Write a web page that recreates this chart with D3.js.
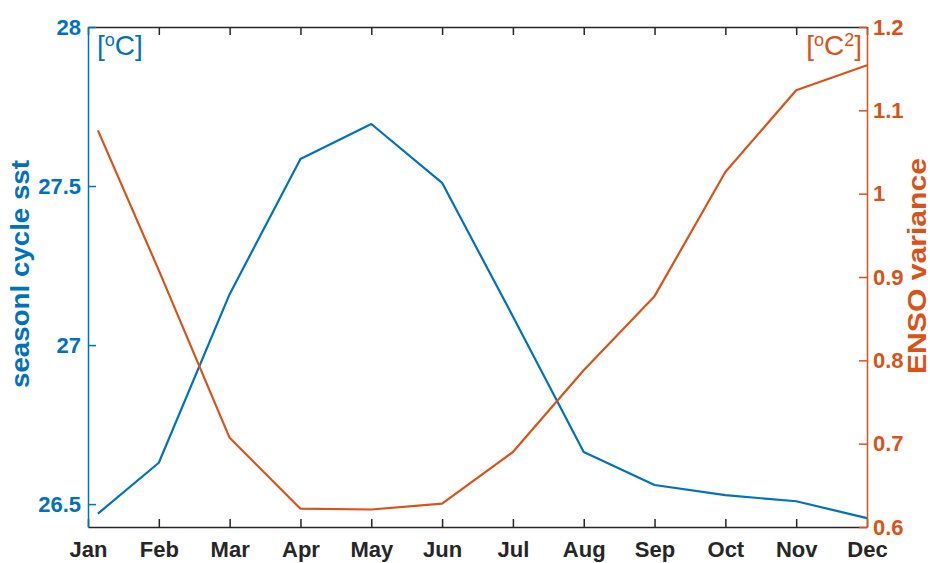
<!DOCTYPE html>
<html>
<head>
<meta charset="utf-8">
<script src="https://cdn.jsdelivr.net/npm/d3@7"></script>
<style>
  html, body { margin: 0; padding: 0; background: #fff; }
  svg { display: block; font-family: "Liberation Sans", Arial, sans-serif; }
</style>
</head>
<body>
<svg id="chart" width="930" height="563"></svg>
<script>
// Month labels and the positions the monthly values are plotted at
const months = ["Jan","Feb","Mar","Apr","May","Jun","Jul","Aug","Sep","Oct","Nov","Dec"];
const monthPos = [1.14, 2, 3, 4, 5, 6, 7, 8, 9, 10, 11, 12];

// Seasonal cycle of SST [°C] (left axis)
const sstCycle = [26.47, 26.63, 27.16, 27.585, 27.695, 27.51, 27.09, 26.664, 26.56, 26.528, 26.509, 26.456];
// ENSO variance [°C²] (right axis)
const ensoVar = [1.076, 0.908, 0.707, 0.622, 0.621, 0.628, 0.690, 0.788, 0.877, 1.026, 1.124, 1.154];

// Tick values
const leftTicks = [26.5, 27, 27.5, 28];
const rightTicks = [0.6, 0.7, 0.8, 0.9, 1.0, 1.1, 1.2];

const blue = "#0072BD";
const orange = "#D95319";
const dark = "#262626";

const svg = d3.select("#chart");
const m = { left: 88, right: 867, top: 27, bottom: 527 };

const x = d3.scaleLinear().domain([1, 12]).range([m.left, m.right]);
const yL = d3.scaleLinear().domain([26.428, 28]).range([m.bottom, m.top]);
const yR = d3.scaleLinear().domain([0.6, 1.2]).range([m.bottom, m.top]);

const tickLen = 8;

// Bottom axis (month ticks pointing inward)
const xBottom = d3.axisBottom(x).tickValues(d3.range(1, 13))
  .tickFormat(d => months[d - 1]).tickSizeInner(-tickLen).tickSizeOuter(0).tickPadding(14);
const gB = svg.append("g").attr("transform", `translate(0,${m.bottom})`).call(xBottom);
gB.select(".domain").attr("stroke", dark).attr("stroke-width", 1.5);
gB.selectAll(".tick line").attr("stroke", dark).attr("stroke-width", 1.5);
gB.selectAll(".tick text").attr("fill", dark)
  .style("font-size", "22px").style("font-weight", "bold");

// Top axis: ticks only
const xTop = d3.axisTop(x).tickValues(d3.range(1, 13)).tickFormat("")
  .tickSizeInner(-tickLen).tickSizeOuter(0);
const gT = svg.append("g").attr("transform", `translate(0,${m.top})`).call(xTop);
gT.select(".domain").attr("stroke", dark).attr("stroke-width", 1.5);
gT.selectAll(".tick line").attr("stroke", dark).attr("stroke-width", 1.5);

// Left axis (SST)
const aL = d3.axisLeft(yL).tickValues(leftTicks).tickFormat(d3.format("~g"))
  .tickSizeInner(-tickLen).tickSizeOuter(0).tickPadding(7);
const gL = svg.append("g").attr("transform", `translate(${m.left},0)`).call(aL);
gL.select(".domain").attr("stroke", blue).attr("stroke-width", 1.5);
gL.selectAll(".tick line").attr("stroke", blue).attr("stroke-width", 1.5);
gL.selectAll(".tick text").attr("fill", blue)
  .style("font-size", "22px").style("font-weight", "bold");

// Right axis (ENSO variance)
const aR = d3.axisRight(yR).tickValues(rightTicks).tickFormat(d3.format("~g"))
  .tickSizeInner(-tickLen).tickSizeOuter(0).tickPadding(6);
const gR = svg.append("g").attr("transform", `translate(${m.right},0)`).call(aR);
gR.select(".domain").attr("stroke", orange).attr("stroke-width", 1.5);
gR.selectAll(".tick line").attr("stroke", orange).attr("stroke-width", 1.5);
gR.selectAll(".tick text").attr("fill", orange)
  .style("font-size", "22px").style("font-weight", "bold");

// Axis titles (wide bold face, stretched to full length)
svg.append("text")
  .attr("transform", `translate(29,274) rotate(-90)`)
  .attr("text-anchor", "middle").attr("fill", blue)
  .style("font-size", "25px").style("font-weight", "bold")
  .attr("textLength", 228).attr("lengthAdjust", "spacingAndGlyphs")
  .text("seasonl cycle sst");
svg.append("text")
  .attr("transform", `translate(926,266) rotate(-90)`)
  .attr("text-anchor", "middle").attr("fill", orange)
  .style("font-size", "25px").style("font-weight", "bold")
  .attr("textLength", 216).attr("lengthAdjust", "spacingAndGlyphs")
  .text("ENSO variance");

// Unit labels inside the plot
const uL = svg.append("text").attr("x", m.left + 9).attr("y", 55)
  .attr("fill", blue).style("font-size", "28px");
uL.append("tspan").text("[");
uL.append("tspan").attr("dy", -9).style("font-size", "18px").text("o");
uL.append("tspan").attr("dy", 9).text("C]");

const uR = svg.append("text").attr("x", m.right - 5).attr("y", 55)
  .attr("text-anchor", "end").attr("fill", orange).style("font-size", "28px");
uR.append("tspan").text("[");
uR.append("tspan").attr("dy", -9).style("font-size", "18px").text("o");
uR.append("tspan").attr("dy", 9).text("C");
uR.append("tspan").attr("dy", -9).style("font-size", "18px").text("2");
uR.append("tspan").attr("dy", 9).text("]");

// Data lines
const lineL = d3.line().x((d, i) => x(monthPos[i])).y(d => yL(d));
const lineR = d3.line().x((d, i) => x(monthPos[i])).y(d => yR(d));

svg.append("path").datum(sstCycle).attr("d", lineL)
  .attr("fill", "none").attr("stroke", blue).attr("stroke-width", 2.2)
  .attr("stroke-linejoin", "round");
svg.append("path").datum(ensoVar).attr("d", lineR)
  .attr("fill", "none").attr("stroke", orange).attr("stroke-width", 2.2)
  .attr("stroke-linejoin", "round");
</script>
</body>
</html>
